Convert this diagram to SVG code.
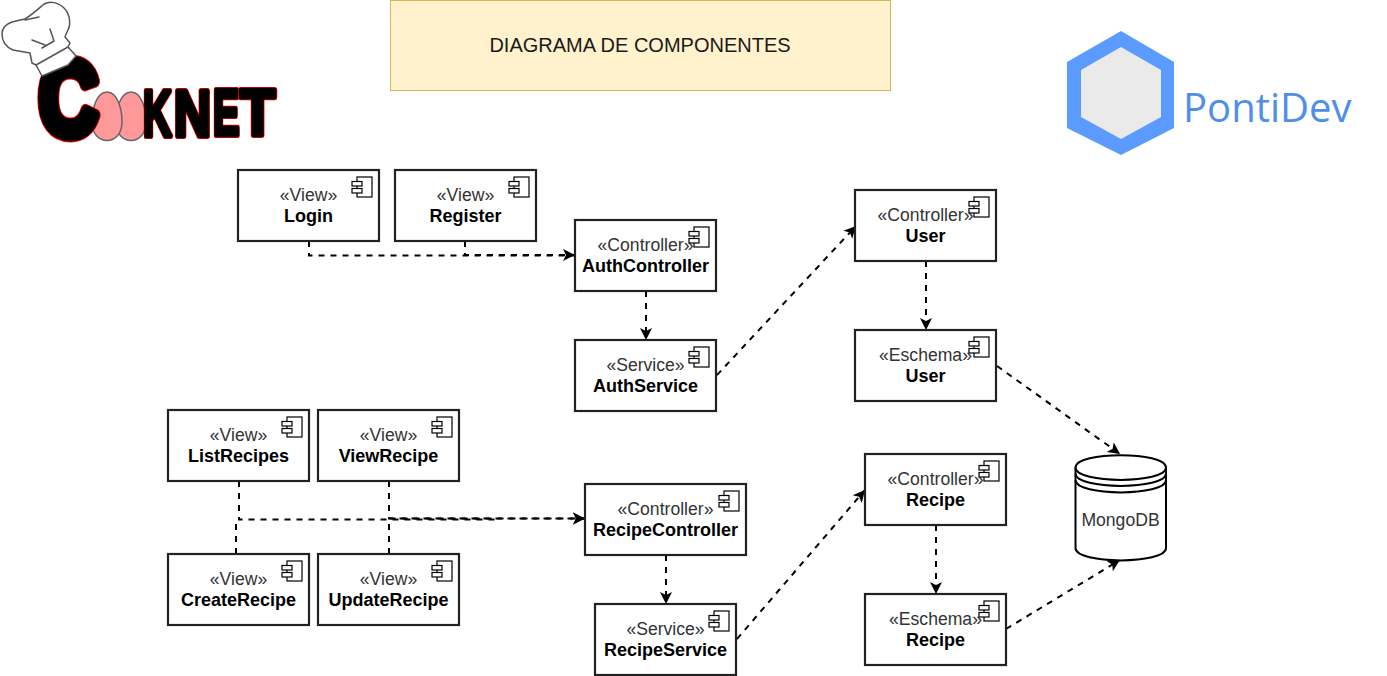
<svg xmlns="http://www.w3.org/2000/svg" xmlns:xlink="http://www.w3.org/1999/xlink" width="1387" height="676" viewBox="0 0 1387 676">
<style>
text{font-family:"Liberation Sans",Arial,sans-serif;fill:#1a1a1a}
.box{fill:#fff;stroke:#222;stroke-width:2.2}
.st,.nm{font-size:17.6px;text-anchor:middle}
.st{fill:#333}
.nm{font-size:18px;font-weight:bold;fill:#000}
.ic{fill:#fff;stroke:#000;stroke-width:1.2}
.dash{fill:none;stroke:#000;stroke-width:2;stroke-dasharray:6 6}
.arrow{marker-end:url(#ah)}
.cyl{fill:#fff;stroke:#000;stroke-width:2}
.lr{font-family:"Liberation Sans",sans-serif;font-weight:bold;fill:#000;stroke:#f00;stroke-width:6;stroke-linejoin:round}
.lb{font-family:"Liberation Sans",sans-serif;font-weight:bold;fill:#000;stroke:#000;stroke-width:4.4;stroke-linejoin:round}
.hat{fill:#fff;stroke:#555;stroke-width:1.5;stroke-linejoin:round;stroke-linecap:round}
.egg{fill:#ff9999;stroke:#666;stroke-width:1.5}
</style>
<defs>
<marker id="ah" markerUnits="userSpaceOnUse" markerWidth="14" markerHeight="14" refX="12" refY="6" orient="auto" viewBox="0 0 14 12"><path d="M0 0L12 6L0 12L3 6Z" fill="#000"/></marker>
<g id="ic"><rect class="ic" x="5" y="0" width="15" height="20"/><rect class="ic" x="0" y="4.500" width="10" height="4.500"/><rect class="ic" x="0" y="11.500" width="10" height="4.500"/></g>
</defs>

<g id="title"><rect x="390.500" y="0.500" width="500" height="90" fill="#fff2cc" stroke="#d6b656"/><text x="640" y="52" font-size="20" text-anchor="middle">DIAGRAMA DE COMPONENTES</text></g>

<g id="logo-cooknet">
<path class="egg" d="M131 92C142 92 146 110 146 122C146 134 139 140.500 131 140.500C123 140.500 116 134 116 122C116 110 120 92 131 92Z"/>
<path class="egg" d="M107 92C118 92 122 110 122 122C122 134 115 140.500 107 140.500C99 140.500 92 134 92 122C92 110 96 92 107 92Z"/>
<g transform="translate(39,135) scale(.77,.99)"><text class="lr" font-size="106" style="stroke-width:13">C</text><text class="lb" font-size="106" style="stroke-width:11">C</text></g>
<g transform="translate(143,136) scale(.62,1)"><text class="lr" font-size="64">K</text><text class="lb" font-size="64">K</text></g>
<g transform="translate(174,136) scale(.8,1)"><text class="lr" font-size="64">N</text><text class="lb" font-size="64">N</text></g>
<g transform="translate(213,135) scale(.62,1)"><text class="lr" font-size="64">E</text><text class="lb" font-size="64">E</text></g>
<g transform="translate(240,135) scale(.9,1)"><text class="lr" font-size="64">T</text><text class="lb" font-size="64">T</text></g>
<path class="hat" d="M25 19C33 14 37 10 44 4C50 1 58 2 64 8C70 14 71 24 68 30C66 34 65 36 65 37L70 43L68 47L76 56L68 65L42 76L36 65L32 63L30 53L13 50C6 47 2 42 2 34C2 28 6 24 12 22C16 21 20 20 25 19Z"/>
<path class="hat" style="fill:none" d="M36 65L68 47M32 40L45 45M50 29L54 41L42 48M25 20L39 17"/>
</g>

<g id="logo-pontidev">
<polygon points="1121,31 1174,62 1174,128 1121,155 1067,128 1067,62" fill="#5b9bff"/>
<polygon points="1121,47 1161,70 1161,117 1121,139 1081,117 1081,70" fill="#eaeaea"/>
<text x="1183" y="122" font-size="40" style="font-family:'Open Sans','Noto Sans',sans-serif;fill:#4f8fe8">PontiDev</text>
</g>

<g id="connectors">
<path class="dash" d="M309 241V255.500H575"/>
<path class="dash arrow" d="M465 241V255H575"/>
<path class="dash arrow" d="M646 291V340"/>
<path class="dash arrow" d="M717 375L856 226"/>
<path class="dash arrow" d="M926 261V330"/>
<path class="dash arrow" d="M997 366L1120 454"/>
<path class="dash" d="M239 481V519.500H495"/>
<path class="dash" d="M236 554V519.500"/>
<path class="dash arrow" d="M389 481V518.500H585"/>
<path class="dash arrow" d="M389 554V518.500H585"/>
<path class="dash arrow" d="M666 555V604"/>
<path class="dash arrow" d="M737 639L865 490"/>
<path class="dash arrow" d="M936 525V594"/>
<path class="dash arrow" d="M1006 629L1120 560"/>
</g>

<g id="login"><rect class="box" x="238" y="170" width="141" height="71"/><text class="st" x="308.500" y="201">«View»</text><text class="nm" x="308.500" y="222">Login</text><use xlink:href="#ic" href="#ic" x="352" y="177"/></g>
<g id="register"><rect class="box" x="395" y="170" width="141" height="71"/><text class="st" x="465.500" y="201">«View»</text><text class="nm" x="465.500" y="222">Register</text><use xlink:href="#ic" href="#ic" x="509" y="177"/></g>
<g id="authcontroller"><rect class="box" x="575" y="220" width="141" height="71"/><text class="st" x="645.500" y="251">«Controller»</text><text class="nm" x="645.500" y="272">AuthController</text><use xlink:href="#ic" href="#ic" x="689" y="227"/></g>
<g id="authservice"><rect class="box" x="575" y="340" width="141" height="71"/><text class="st" x="645.500" y="371">«Service»</text><text class="nm" x="645.500" y="392">AuthService</text><use xlink:href="#ic" href="#ic" x="689" y="347"/></g>
<g id="usercontroller"><rect class="box" x="855" y="190" width="141" height="71"/><text class="st" x="925.500" y="221">«Controller»</text><text class="nm" x="925.500" y="242">User</text><use xlink:href="#ic" href="#ic" x="969" y="197"/></g>
<g id="userschema"><rect class="box" x="855" y="330" width="141" height="71"/><text class="st" x="925.500" y="361">«Eschema»</text><text class="nm" x="925.500" y="382">User</text><use xlink:href="#ic" href="#ic" x="969" y="337"/></g>
<g id="listrecipes"><rect class="box" x="168" y="410" width="141" height="71"/><text class="st" x="238.500" y="441">«View»</text><text class="nm" x="238.500" y="462">ListRecipes</text><use xlink:href="#ic" href="#ic" x="282" y="417"/></g>
<g id="viewrecipe"><rect class="box" x="318" y="410" width="141" height="71"/><text class="st" x="388.500" y="441">«View»</text><text class="nm" x="388.500" y="462">ViewRecipe</text><use xlink:href="#ic" href="#ic" x="432" y="417"/></g>
<g id="createrecipe"><rect class="box" x="168" y="554" width="141" height="71"/><text class="st" x="238.500" y="585">«View»</text><text class="nm" x="238.500" y="606">CreateRecipe</text><use xlink:href="#ic" href="#ic" x="282" y="561"/></g>
<g id="updaterecipe"><rect class="box" x="318" y="554" width="141" height="71"/><text class="st" x="388.500" y="585">«View»</text><text class="nm" x="388.500" y="606">UpdateRecipe</text><use xlink:href="#ic" href="#ic" x="432" y="561"/></g>
<g id="recipecontroller"><rect class="box" x="585" y="484" width="161" height="71"/><text class="st" x="665.500" y="515">«Controller»</text><text class="nm" x="665.500" y="536">RecipeController</text><use xlink:href="#ic" href="#ic" x="719" y="491"/></g>
<g id="recipeservice"><rect class="box" x="595" y="604" width="141" height="71"/><text class="st" x="665.500" y="635">«Service»</text><text class="nm" x="665.500" y="656">RecipeService</text><use xlink:href="#ic" href="#ic" x="709" y="611"/></g>
<g id="recipectrl"><rect class="box" x="865" y="454" width="141" height="71"/><text class="st" x="935.500" y="485">«Controller»</text><text class="nm" x="935.500" y="506">Recipe</text><use xlink:href="#ic" href="#ic" x="979" y="461"/></g>
<g id="recipeschema"><rect class="box" x="865" y="594" width="141" height="71"/><text class="st" x="935.500" y="625">«Eschema»</text><text class="nm" x="935.500" y="646">Recipe</text><use xlink:href="#ic" href="#ic" x="979" y="601"/></g>

<g id="mongodb">
<path class="cyl" d="M1075.500 467.500C1075.500 451 1166 451 1166 467.500V548C1166 564.500 1075.500 564.500 1075.500 548Z"/>
<path class="cyl" style="fill:none" d="M1075.500 467.500C1075.500 484 1166 484 1166 467.500M1075.500 473.500C1075.500 490 1166 490 1166 473.500M1075.500 480C1075.500 496.500 1166 496.500 1166 480"/>
<text x="1120.500" y="526" font-size="17.600" text-anchor="middle" style="fill:#333">MongoDB</text>
</g>
</svg>
